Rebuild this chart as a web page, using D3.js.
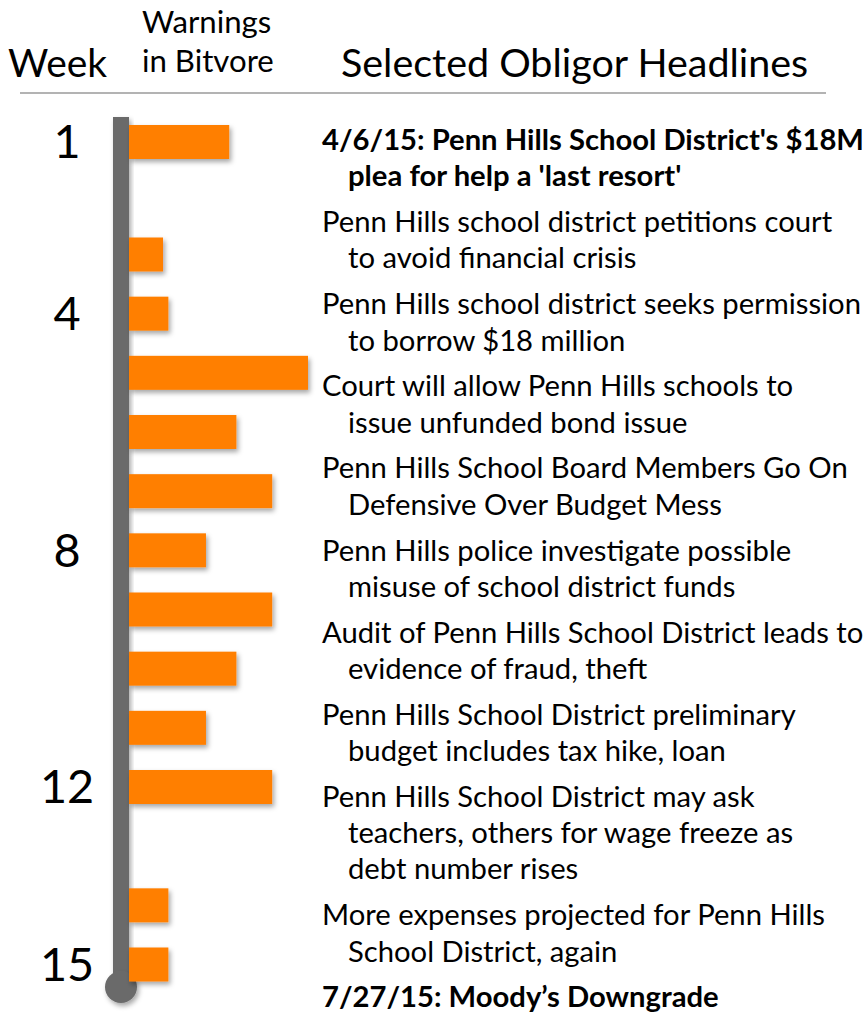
<!DOCTYPE html>
<html>
<head>
<meta charset="utf-8">
<script src="https://cdn.jsdelivr.net/npm/d3@7"></script>
<style>
	body { margin: 0; background: #fff; }
	svg { display: block; }
</style>
</head>
<body>
<svg id="chart"></svg>
<script>
// data
const weeks = [ 1, 3, 4, 5, 6, 7, 8, 9, 10, 11, 12, 14, 15 ];
const warnings = [ 28, 9.5, 11, 50, 30, 40, 21.5, 40, 30, 21.5, 40, 11, 11 ];
const weekTickLabels = [ 1, 4, 8, 12, 15 ];
const headlines = [
	[ "4/6/15: Penn Hills School District's $18M", "plea for help a 'last resort'" ],
	[ "Penn Hills school district petitions court", "to avoid financial crisis" ],
	[ "Penn Hills school district seeks permission", "to borrow $18 million" ],
	[ "Court will allow Penn Hills schools to", "issue unfunded bond issue" ],
	[ "Penn Hills School Board Members Go On", "Defensive Over Budget Mess" ],
	[ "Penn Hills police investigate possible", "misuse of school district funds" ],
	[ "Audit of Penn Hills School District leads to", "evidence of fraud, theft" ],
	[ "Penn Hills School District preliminary", "budget includes tax hike, loan" ],
	[ "Penn Hills School District may ask", "teachers, others for wage freeze as", "debt number rises" ],
	[ "More expenses projected for Penn Hills", "School District, again" ],
	[ "7/27/15: Moody\u2019s Downgrade" ]
];
const boldHeadlines = [ true, false, false, false, false, false, false, false, false, false, true ];

const TimelineChart = {
	width: 867,
	height: 1017,
	fontFamily: 'Lato, "Open Sans", sans-serif',
	fontScale: 1,

	render: function() {
		const self = TimelineChart;
		let svg = d3.select('#chart')
			.attr('width', self.width)
			.attr('height', self.height);

		self.addShadowFilter(svg);
		self.computeFontScale(svg);
		self.drawHeader(svg);
		self.drawTimeline(svg);
		self.drawHeadlines(svg);
	},
	addShadowFilter: function(svg) {
		svg.append('defs')
			.append('filter')
			.attr('id', 'shadow')
			.attr('x', '-20%').attr('y', '-20%')
			.attr('width', '150%').attr('height', '160%')
			.append('feDropShadow')
			.attr('dx', 2)
			.attr('dy', 3)
			.attr('stdDeviation', 2.5)
			.attr('flood-color', '#000')
			.attr('flood-opacity', 0.35);
	},
	computeFontScale: function(svg) {
		const self = TimelineChart;
		// lato is wider than the original font, so shrink to match a known line
		let probe = svg.append('text')
			.style('font-family', self.fontFamily)
			.style('font-size', '30px')
			.text(headlines[4][0]);
		let measuredWidth = probe.node().getComputedTextLength();

		self.fontScale = 526 / measuredWidth;
		probe.remove();
	},
	fontSize: function(size) {
		return (size * TimelineChart.fontScale) + 'px';
	},

	// header

	drawHeader: function(svg) {
		const self = TimelineChart;
		let header = svg.append('g')
			.style('font-family', self.fontFamily)
			.style('fill', '#000');

		header.append('text')
			.attr('x', 8).attr('y', 77)
			.style('font-size', self.fontSize(40))
			.text('Week');
		header.append('text')
			.attr('x', 142).attr('y', 33)
			.style('font-size', self.fontSize(32))
			.text('Warnings');
		header.append('text')
			.attr('x', 142).attr('y', 72)
			.style('font-size', self.fontSize(32))
			.text('in Bitvore');
		header.append('text')
			.attr('x', 341).attr('y', 77)
			.style('font-size', self.fontSize(40.5))
			.text('Selected Obligor Headlines');
		header.append('line')
			.attr('x1', 20).attr('x2', 826)
			.attr('y1', 93).attr('y2', 93)
			.style('stroke', '#9a9a9a')
			.style('stroke-width', 1.5);
	},

	// timeline

	drawTimeline: function(svg) {
		const self = TimelineChart;
		let lineX = 113, lineWidth = 16;
		let lineTop = 117, lineBottom = 987;
		let barHeight = 34;

		// the weeks are not evenly spaced in the original slide
		let yScale = d3.scaleLinear()
			.domain([ 1, 3, 15 ])
			.range([ 142, 254.5, 964.5 ]);
		let xScale = d3.scaleLinear()
			.domain([ 0, 50 ])
			.range([ 0, 179 ]);
		let barData = weeks.map(function(week, i) { return { week: week, value: warnings[i] }; });

		let axis = svg.append('g');
		axis.append('rect')
			.attr('x', lineX)
			.attr('y', lineTop)
			.attr('width', lineWidth)
			.attr('height', lineBottom - lineTop)
			.style('fill', '#6b6b6b')
			.attr('filter', 'url(#shadow)');
		axis.append('circle')
			.attr('cx', lineX + lineWidth / 2)
			.attr('cy', lineBottom)
			.attr('r', 16)
			.style('fill', '#6b6b6b')
			.attr('filter', 'url(#shadow)');

		svg.append('g')
			.selectAll('rect')
			.data(barData)
			.join('rect')
			.attr('x', lineX + lineWidth)
			.attr('y', function(d) { return yScale(d.week) - barHeight / 2; })
			.attr('width', function(d) { return xScale(d.value); })
			.attr('height', barHeight)
			.style('fill', '#ff7f00')
			.attr('filter', 'url(#shadow)');

		svg.append('g')
			.selectAll('text')
			.data(weekTickLabels)
			.join('text')
			.attr('x', 67)
			.attr('y', function(d) { return yScale(d); })
			.attr('dy', '0.35em')
			.attr('text-anchor', 'middle')
			.style('font-family', self.fontFamily)
			.style('font-size', self.fontSize(48))
			.style('fill', '#000')
			.text(function(d) { return d; });
	},

	// headlines

	drawHeadlines: function(svg) {
		const self = TimelineChart;
		let firstX = 322, indentX = 348;
		let lineStep = 36.3, paragraphGap = 9.5;
		let baseline = 150;
		let group = svg.append('g')
			.style('font-family', self.fontFamily)
			.style('font-size', self.fontSize(30))
			.style('fill', '#000');

		for (let i = 0; i < headlines.length; i++) {
			let currentLines = headlines[i];

			for (let j = 0; j < currentLines.length; j++) {
				group.append('text')
					.attr('x', (j == 0) ? firstX : indentX)
					.attr('y', baseline)
					.style('font-weight', boldHeadlines[i] ? 'bold' : 'normal')
					.text(currentLines[j]);
				baseline += lineStep;
			}

			baseline += paragraphGap;
		}
	}
};

TimelineChart.render();
</script>
</body>
</html>
